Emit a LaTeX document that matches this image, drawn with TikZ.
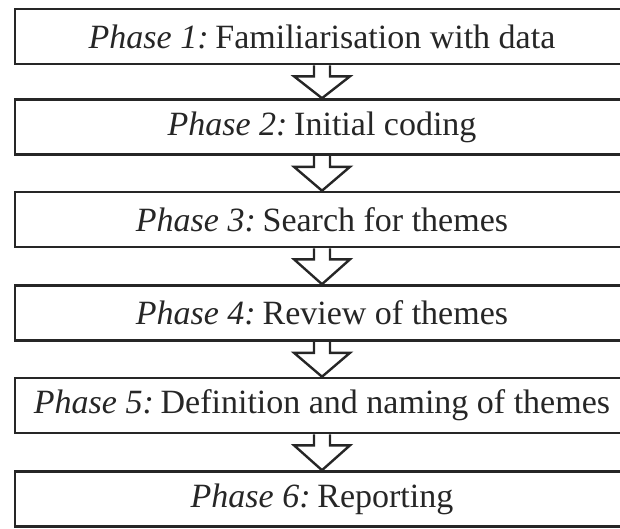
\documentclass[tikz,border=0pt]{standalone}
\usepackage{fontspec}
\setmainfont{Liberation Serif}
\usetikzlibrary{calc}
\tikzset{
  phasebox/.style={draw=black!85, line width=2.6pt, fill=white, minimum width=614pt,
    minimum height=55pt, inner sep=0pt, font=\fontsize{34}{38}\selectfont, text=black!85},
  blockarrow/.style={draw=black!85, line width=2.4pt, line join=miter}
}
\newcommand{\phasearrow}[2]{%
  \path (#1.south) coordinate (#1t);
  \path (#2.north) coordinate (#1tip);
  \draw[blockarrow] ($(#1t)+(-8pt,0)$) -- ($(#1t)+(-8pt,-11pt)$) -- ($(#1t)+(-28pt,-11pt)$)
    -- (#1tip) -- ($(#1t)+(28pt,-11pt)$) -- ($(#1t)+(8pt,-11pt)$) -- ($(#1t)+(8pt,0)$);
}
\begin{document}
\begin{tikzpicture}[x=1pt,y=-1pt]
\useasboundingbox (0,0) rectangle (620,528);
\node[phasebox] (p1) at (322,36.5) {\textit{Phase 1:}\hspace{0.2em}Familiarisation with data};
\node[phasebox] (p2) at (322,127) {\textit{Phase 2:}\hspace{0.2em}Initial coding};
\node[phasebox] (p3) at (322,219.5) {\textit{Phase 3:}\hspace{0.2em}Search for themes};
\node[phasebox] (p4) at (322,313) {\textit{Phase 4:}\hspace{0.2em}Review of themes};
\node[phasebox] (p5) at (322,405.5) {\textit{Phase 5:}\hspace{0.2em}Definition and naming of themes};
\node[phasebox] (p6) at (322,499) {\textit{Phase 6:}\hspace{0.2em}Reporting};
\phasearrow{p1}{p2}
\phasearrow{p2}{p3}
\phasearrow{p3}{p4}
\phasearrow{p4}{p5}
\phasearrow{p5}{p6}
\end{tikzpicture}
\end{document}
